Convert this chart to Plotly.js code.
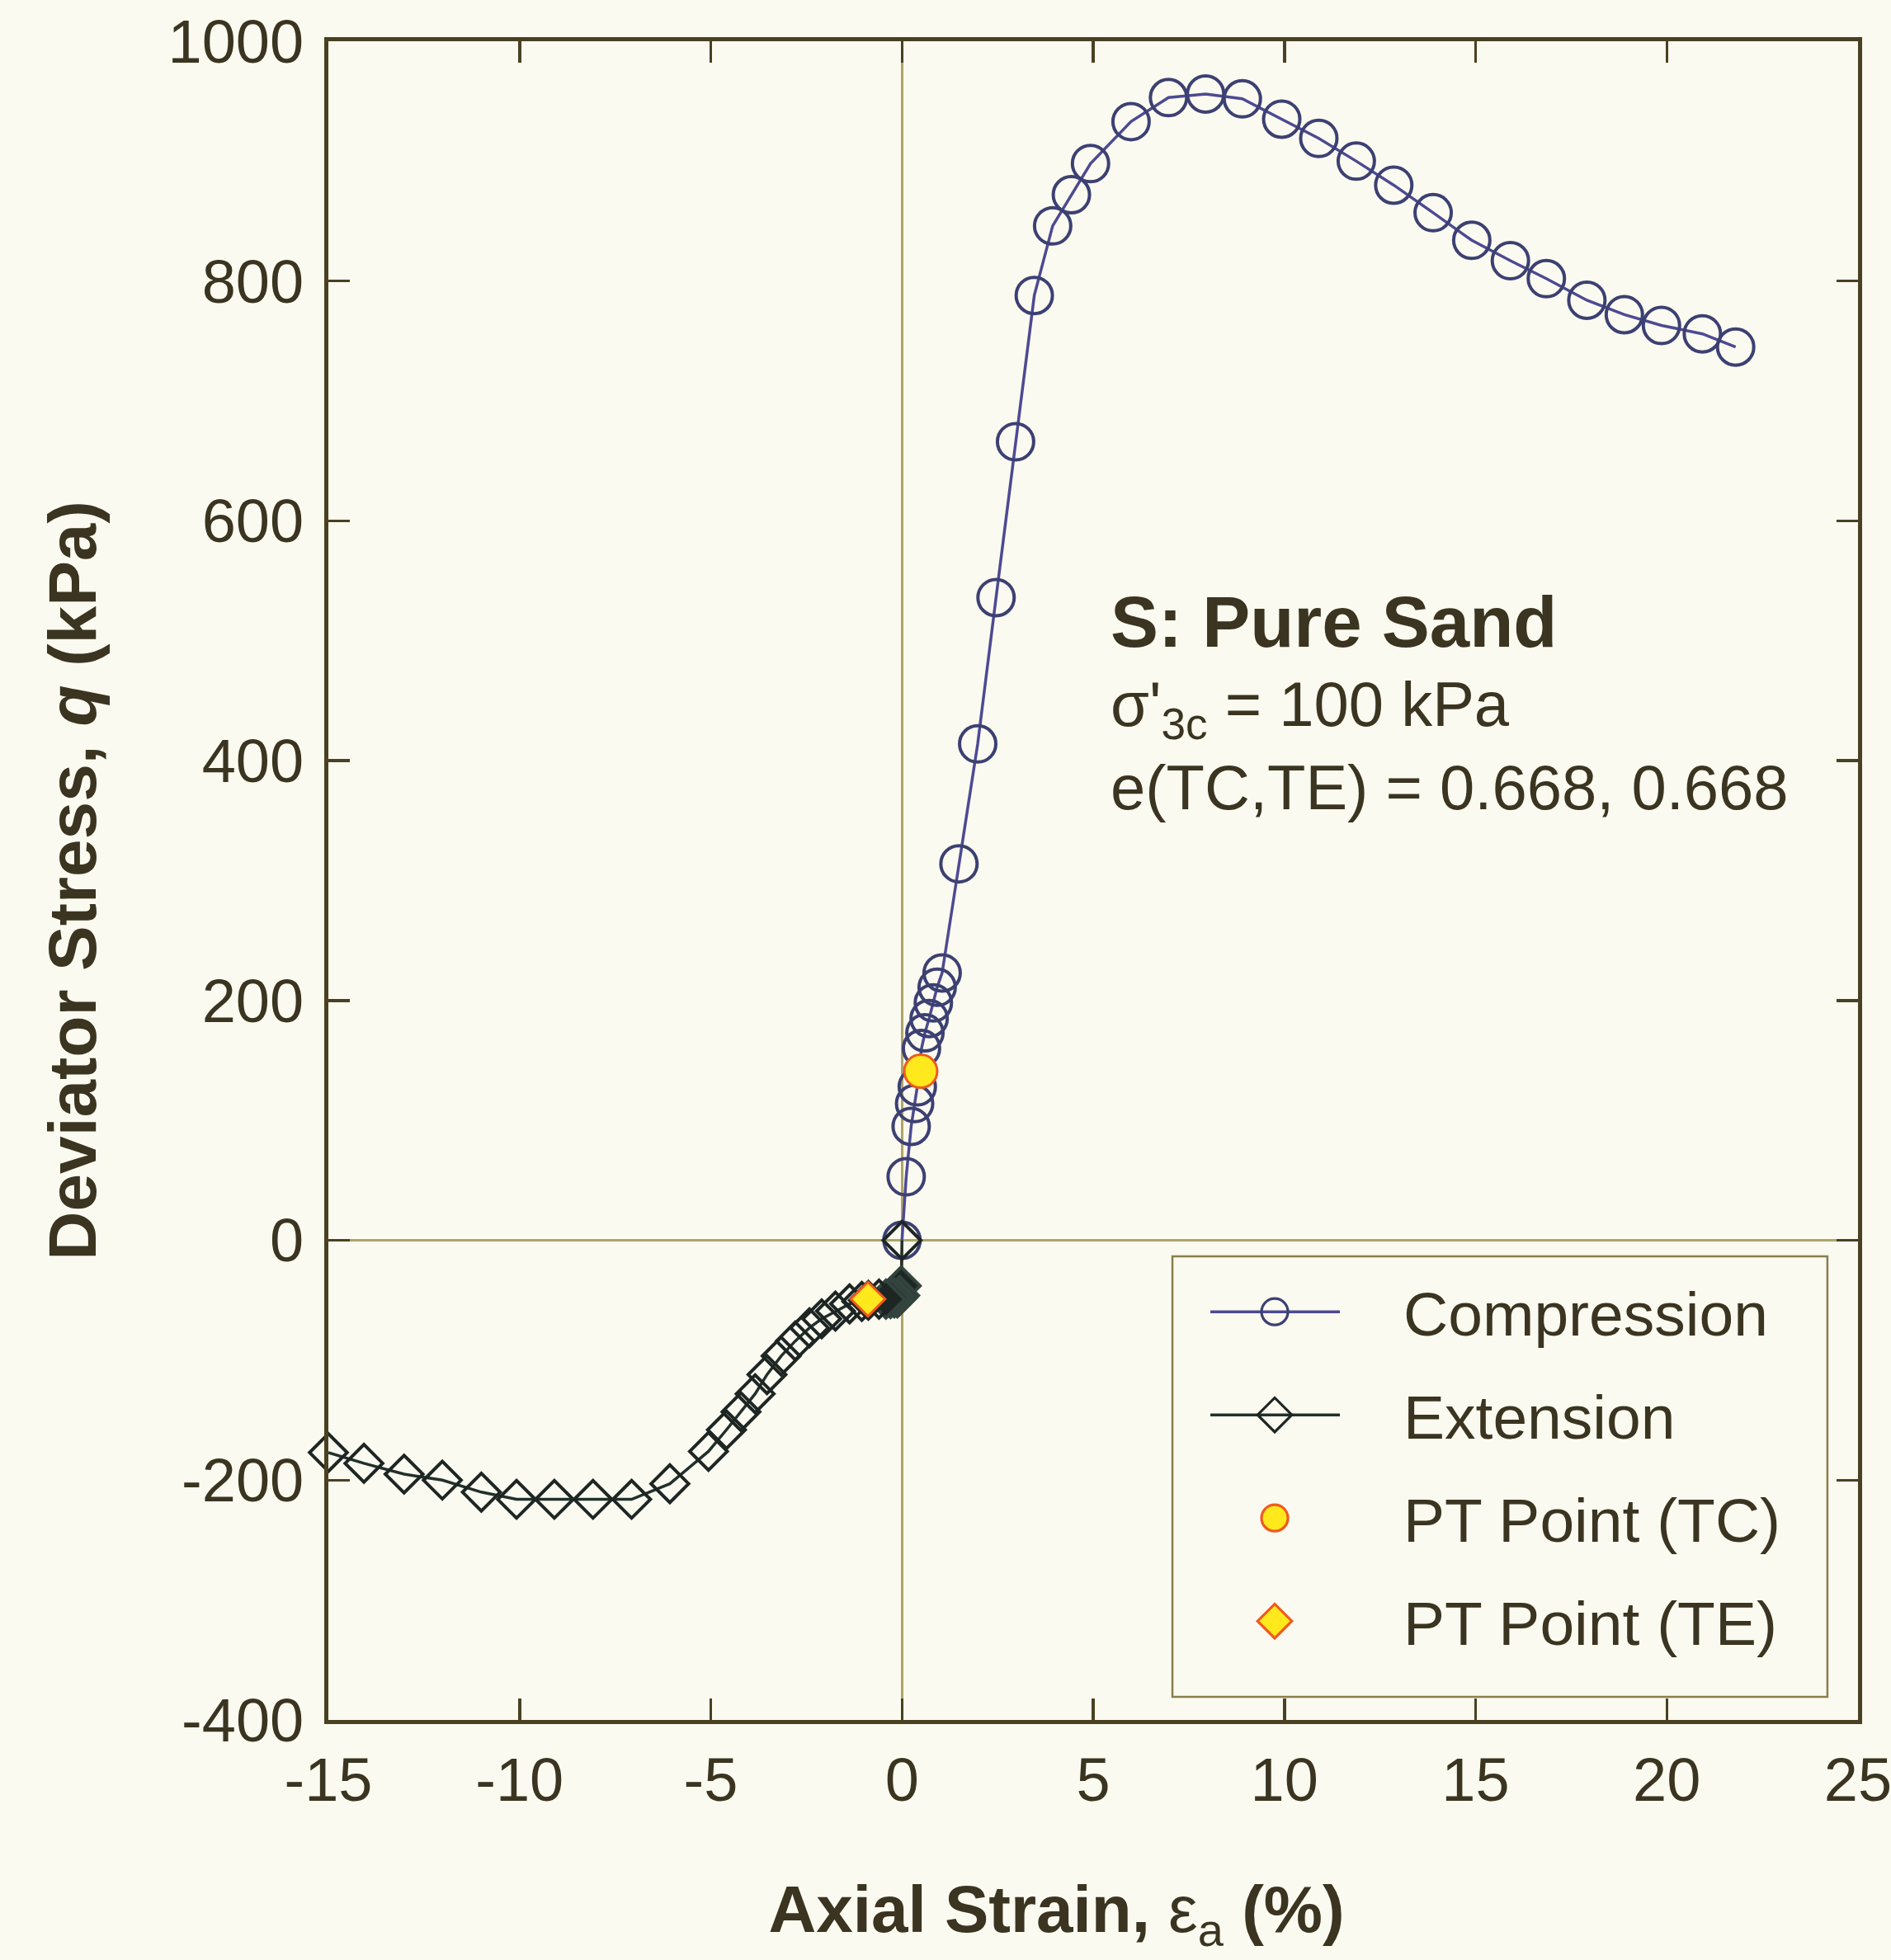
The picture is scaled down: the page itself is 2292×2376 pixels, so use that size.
<!DOCTYPE html>
<html>
<head>
<meta charset="utf-8">
<script src="https://cdn.plot.ly/plotly-3.0.1.min.js"></script>
<style>
html,body{margin:0;padding:0;background:#fafaf0;}
#chart{width:2292px;height:2376px;}
</style>
</head>
<body>
<div id="chart"></div>
<script>
// Compression (TC) test: axial strain (%) and deviator stress (kPa)
const compStrain = [0, 0.11, 0.24, 0.33, 0.40, 0.51, 0.60, 0.71, 0.82, 0.92, 1.05, 1.49, 1.98, 2.46, 2.97, 3.46, 3.94, 4.43, 4.93, 5.99, 6.97, 7.94, 8.90, 9.93, 10.90, 11.88, 12.86, 13.89, 14.90, 15.91, 16.85, 17.91, 18.89, 19.86, 20.93, 21.80];
const compStress = [0, 53, 95, 114, 128, 160, 173, 185, 198, 211, 223, 314, 414, 536, 666, 788, 846, 872, 898, 933, 953, 956, 952, 935, 919, 900, 880, 857, 834, 817, 802, 784, 772, 763, 756, 745];

// Extension (TE) test
const extStrain = [0, -0.02, -0.06, -0.12, -0.20, -0.30, -0.42, -0.60, -0.88, -1.05, -1.37, -1.74, -2.10, -2.42, -2.79, -3.16, -3.53, -3.84, -4.21, -4.59, -5.06, -6.07, -7.07, -8.08, -9.09, -10.08, -11.00, -12.02, -13.02, -14.07, -15.00];
const extStress = [0, -38, -46, -48, -48, -48.5, -49, -49, -50, -51, -53, -59, -65.5, -73, -84, -96.5, -112, -128, -143, -158, -176, -203, -216, -216, -216, -216, -210, -200, -195, -186, -177];

// Phase transformation points
const ptTCStrain = [0.49];
const ptTCStress = [141];
const ptTEStrain = [-0.89];
const ptTEStress = [-49];

// Axis ticks
const xTickVals = [-15, -10, -5, 0, 5, 10, 15, 20, 25];
const yTickVals = [-400, -200, 0, 200, 400, 600, 800, 1000];

const seriesNames = ['Compression', 'Extension', 'PT Point (TC)', 'PT Point (TE)'];

const FONT = 'Liberation Sans, Arial, Helvetica, sans-serif';
const TXT = '#3a3420';
const AXC = '#4a4122';
const BG = '#fafaf0';

// extension markers: the tightly packed points right next to the origin overlap into a dark blob
const extSymbols = extStrain.map(function (v, i) { return (i > 0 && v > -0.5) ? 'diamond' : 'diamond-open'; });

const data = [
  {
    x: compStrain, y: compStress, name: seriesNames[0], type: 'scatter', mode: 'lines+markers',
    legendgroup: 'a', cliponaxis: false,
    line: {color: '#4d4a92', width: 3.5},
    marker: {symbol: 'circle-open', size: 44, color: '#3c4072', line: {width: 4, color: '#3c4072'}}
  },
  {
    x: extStrain, y: extStress, name: seriesNames[1], type: 'scatter', mode: 'lines+markers',
    legendgroup: 'b', cliponaxis: false,
    line: {color: '#22302c', width: 3.5},
    marker: {symbol: extSymbols, size: 35, color: '#1e2624', line: {width: 4, color: '#33433e'}}
  },
  {
    x: ptTCStrain, y: ptTCStress, name: seriesNames[2], type: 'scatter', mode: 'markers',
    legendgroup: 'c', cliponaxis: false,
    marker: {symbol: 'circle', size: 40, color: '#ffe81c', line: {width: 3, color: '#f05a1e'}}
  },
  {
    x: ptTEStrain, y: ptTEStress, name: seriesNames[3], type: 'scatter', mode: 'markers',
    legendgroup: 'd', cliponaxis: false,
    marker: {symbol: 'diamond', size: 32, color: '#ffe81c', line: {width: 3, color: '#f05a1e'}}
  }
];

const axisCommon = {
  showgrid: false,
  showline: true, linecolor: AXC, linewidth: 5, mirror: 'ticks',
  ticks: 'inside', ticklen: 26, tickwidth: 3.5, tickcolor: AXC,
  zeroline: true, zerolinecolor: '#b0a468', zerolinewidth: 3,
  tickfont: {family: FONT, size: 74, color: TXT},
  ticklabeloverflow: 'allow',
  fixedrange: true
};

const layout = {
  width: 2292, height: 2376,
  paper_bgcolor: BG, plot_bgcolor: BG,
  margin: {l: 398, r: 40, t: 50, b: 291},
  showlegend: true,
  font: {family: FONT, color: TXT},
  xaxis: Object.assign({}, axisCommon, {
    range: [-15, 25], tickmode: 'array', tickvals: xTickVals, ticktext: xTickVals.map(String),
    ticklabelstandoff: 4,
    title: {text: '<b>Axial Strain, </b>ε<sub>a</sub><b> (%)</b>&nbsp;&nbsp;&nbsp;&nbsp;', font: {family: FONT, size: 80, color: TXT}, standoff: 90}
  }),
  yaxis: Object.assign({}, axisCommon, {
    range: [-400, 1000], tickmode: 'array', tickvals: yTickVals, ticktext: yTickVals.map(String),
    ticklabelstandoff: 10,
    title: {text: '<b>Deviator Stress, <i>q</i> (kPa)</b>', font: {family: FONT, size: 82, color: TXT}, standoff: 61}
  }),
  legend: {
    x: 0.5518, y: 0.2703, xanchor: 'left', yanchor: 'top',
    bgcolor: 'rgba(0,0,0,0)', borderwidth: 0,
    font: {family: FONT, size: 75, color: TXT},
    itemwidth: 270, itemsizing: 'trace', tracegroupgap: 24.5, traceorder: 'grouped'
  },
  shapes: [
    {type: 'rect', xref: 'paper', yref: 'paper', x0: 0.5518, x1: 0.980, y0: 0.0138, y1: 0.2762,
     line: {color: '#8a7e4a', width: 2.5}, fillcolor: BG, layer: 'below'}
  ],
  annotations: [
    {xref: 'paper', yref: 'paper', x: 0.5102, y: 0.6545, xanchor: 'left', yanchor: 'middle', showarrow: false,
     text: '<b>S: Pure Sand</b>', font: {family: FONT, size: 87, color: TXT}},
    {xref: 'paper', yref: 'paper', x: 0.5102, y: 0.6025, xanchor: 'left', yanchor: 'middle', showarrow: false,
     text: 'σ\'<sub>3c</sub> = 100 kPa', font: {family: FONT, size: 76, color: TXT}},
    {xref: 'paper', yref: 'paper', x: 0.5102, y: 0.5553, xanchor: 'left', yanchor: 'middle', showarrow: false,
     text: 'e(TC,TE) = 0.668, 0.668', font: {family: FONT, size: 76, color: TXT}}
  ]
};

Plotly.newPlot('chart', data, layout, {displayModeBar: false, staticPlot: true}).then(function (gd) {
  // enlarge legend symbols to match the original figure
  gd.querySelectorAll('.legend .traces').forEach(function (tr) {
    tr.querySelectorAll('path.js-line').forEach(function (p) { p.setAttribute('d', 'M46,0h157'); });
    tr.querySelectorAll('path.scatterpts').forEach(function (p) {
      p.setAttribute('transform', 'translate(124,0) scale(2)');
      p.style.strokeWidth = '1.6px';
    });
  });
});
</script>
</body>
</html>
